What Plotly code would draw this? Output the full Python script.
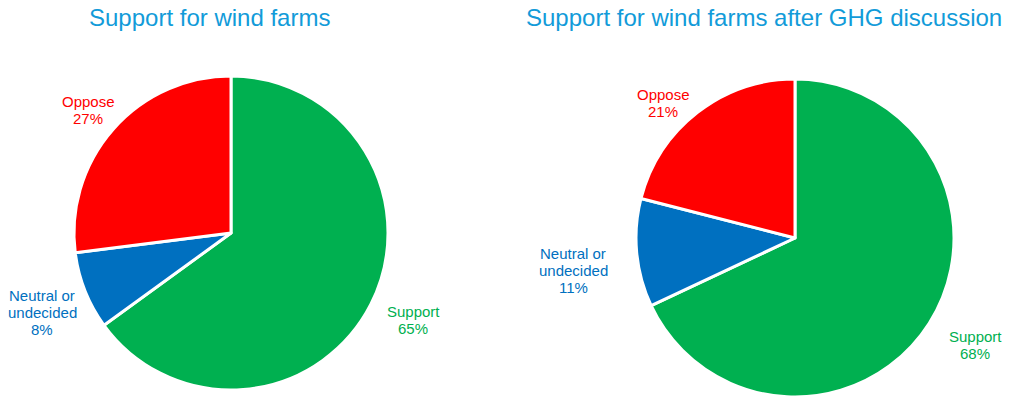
import plotly.graph_objects as go

W, H = 1014, 397

labels = ["Support", "Neutral or undecided", "Oppose"]
label_lines = [["Support"], ["Neutral or", "undecided"], ["Oppose"]]
before_values = [65, 8, 27]
after_values = [68, 11, 21]
colors = ["#00B050", "#0070C0", "#FF0000"]
titles = ["Support for wind farms", "Support for wind farms after GHG discussion"]

TITLE_COLOR = "#129BD9"
FONT = "'Liberation Sans', Arial, sans-serif"
LINE_GAP = 17


def px_x(x):
    return x / W


def px_y(y):
    return 1 - y / H


def pie_domain(cx, cy, r):
    return dict(
        x=[px_x(cx - r), px_x(cx + r)],
        y=[max(0, px_y(cy + r)), min(1, px_y(cy - r))],
    )


fig = go.Figure()

pies = [
    (before_values, (231, 233, 157)),
    (after_values, (795, 238, 159)),
]
for values, (cx, cy, r) in pies:
    fig.add_trace(go.Pie(
        labels=labels,
        values=values,
        sort=False,
        direction="clockwise",
        rotation=0,
        marker=dict(colors=colors, line=dict(color="white", width=3)),
        textinfo="none",
        hoverinfo="label+percent",
        domain=pie_domain(cx, cy, r),
        showlegend=False,
    ))

# slice labels (name lines then share), centred on the given point
label_pos = [
    [(413, 320), (42, 312), (88, 110)],
    [(975, 345), (573, 270), (663, 103)],
]
annotations = []
for values, positions in zip([before_values, after_values], label_pos):
    for lines, val, col, (x, y) in zip(label_lines, values, colors, positions):
        rows = lines + [f"{val}%"]
        top = y - LINE_GAP * (len(rows) - 1) / 2
        for i, row in enumerate(rows):
            annotations.append(dict(
                x=px_x(x), y=px_y(top + i * LINE_GAP), xref="paper", yref="paper",
                xanchor="center", yanchor="middle",
                text=row, showarrow=False,
                font=dict(family=FONT, size=15, color=col),
            ))

for text, x in zip(titles, [209, 764]):
    annotations.append(dict(
        x=px_x(x), y=px_y(18), xref="paper", yref="paper",
        xanchor="center", yanchor="middle",
        text=text, showarrow=False,
        font=dict(family=FONT, size=24, color=TITLE_COLOR),
    ))

fig.update_layout(
    width=W, height=H,
    margin=dict(l=0, r=0, t=0, b=0),
    paper_bgcolor="white",
    plot_bgcolor="white",
    annotations=annotations,
)

fig.write_html("out.html")
